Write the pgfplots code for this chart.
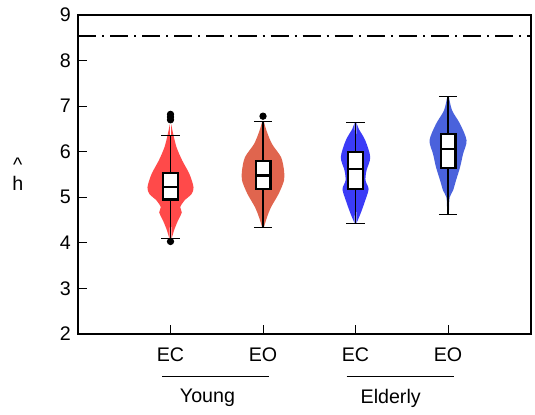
\documentclass[border=0pt]{standalone}
\usepackage{fontspec}
\setmainfont{Liberation Sans}
\usepackage{pgfplots}
\usepackage{pgfplotstable}
\pgfplotsset{compat=1.18}
\usepgfplotslibrary{fillbetween,statistics}
\definecolor{vRed}{HTML}{FF4A4A}
\definecolor{vTomato}{HTML}{E0654E}
\definecolor{vBlue}{HTML}{3B3BF7}
\definecolor{vRoyal}{HTML}{4A62DC}

% violin outlines: y, half width (axis units)
\pgfplotstableread{
y w
4.08 0.010
4.12 0.016
4.30 0.043
4.48 0.079
4.67 0.122
4.78 0.105
4.93 0.151
5.07 0.227
5.22 0.249
5.51 0.205
5.81 0.126
6.10 0.065
6.39 0.029
6.60 0.008
}\youngEC
\pgfplotstableread{
y w
4.33 0.008
4.56 0.043
4.78 0.086
5.08 0.170
5.37 0.227
5.59 0.227
5.88 0.195
6.17 0.097
6.45 0.040
6.67 0.008
}\youngEO
\pgfplotstableread{
y w
4.43 0.010
4.64 0.054
4.93 0.105
5.18 0.141
5.37 0.108
5.59 0.119
5.88 0.159
6.25 0.105
6.50 0.035
6.64 0.010
}\elderEC
\pgfplotstableread{
y w
4.62 0.010
4.78 0.011
5.00 0.018
5.15 0.054
5.37 0.086
5.66 0.130
5.95 0.162
6.25 0.200
6.61 0.130
6.91 0.043
7.22 0.008
}\elderEO

\begin{document}
\begin{tikzpicture}
\begin{axis}[
  scale only axis,width=226pt,height=159pt,
  xmin=0,xmax=4.9,ymin=2,ymax=9,
  xtick={1,2,3,4},xticklabels={EC,EO,EC,EO},
  ytick={2,3,...,9},
  tick pos=left,tick align=inside,major tick length=4.5pt,
  tick style={black,line width=0.5pt},
  axis line style={line width=0.85pt},
  /pgf/number format/assume math mode=true,
  tick label style={font=\fontsize{9.8}{11.5}\selectfont},
  xticklabel style={yshift=-3.5pt},
  clip=false,
  boxplot/draw direction=y,
  boxplot/box extend=0.16,boxplot/whisker extend=0.2,
  boxplot/every box/.style={draw=black,fill=white,line width=1.1pt},
  boxplot/every median/.style={draw=black,line width=1.1pt},
  boxplot/every whisker/.style={draw=black,line width=0.6pt},
]
% bounding box of the figure
\path (axis cs:-0.843,0.282) rectangle (axis cs:4.94,9.33);

\addplot[draw=black,line width=0.6pt,dash pattern=on 9pt off 3pt on 1pt off 3pt] coordinates {(0,8.54) (4.9,8.54)};

\addplot[name path=aR,draw=none,smooth] table[x expr=1+\thisrow{w},y=y] {\youngEC};
\addplot[name path=aL,draw=none,smooth] table[x expr=1-\thisrow{w},y=y] {\youngEC};
\addplot[fill=vRed,draw=none] fill between[of=aR and aL];

\addplot[name path=bR,draw=none,smooth] table[x expr=2+\thisrow{w},y=y] {\youngEO};
\addplot[name path=bL,draw=none,smooth] table[x expr=2-\thisrow{w},y=y] {\youngEO};
\addplot[fill=vTomato,draw=none] fill between[of=bR and bL];

\addplot[name path=cR,draw=none,smooth] table[x expr=3+\thisrow{w},y=y] {\elderEC};
\addplot[name path=cL,draw=none,smooth] table[x expr=3-\thisrow{w},y=y] {\elderEC};
\addplot[fill=vBlue,draw=none] fill between[of=cR and cL];

\addplot[name path=dR,draw=none,smooth] table[x expr=4+\thisrow{w},y=y] {\elderEO};
\addplot[name path=dL,draw=none,smooth] table[x expr=4-\thisrow{w},y=y] {\elderEO};
\addplot[fill=vRoyal,draw=none] fill between[of=dR and dL];

% boxes
\addplot[black,mark=*,mark size=1.6pt,boxplot prepared={draw position=1,lower whisker=4.09,lower quartile=4.95,median=5.23,upper quartile=5.54,upper whisker=6.36}] coordinates {(0,6.82) (0,6.76) (0,6.70) (0,4.03)};
\addplot[black,mark=*,mark size=1.6pt,boxplot prepared={draw position=2,lower whisker=4.33,lower quartile=5.18,median=5.48,upper quartile=5.79,upper whisker=6.67}] coordinates {(0,6.78)};
\addplot[black,mark=*,mark size=1.6pt,boxplot prepared={draw position=3,lower whisker=4.43,lower quartile=5.19,median=5.62,upper quartile=5.99,upper whisker=6.64}] coordinates {};
\addplot[black,mark=*,mark size=1.6pt,boxplot prepared={draw position=4,lower whisker=4.62,lower quartile=5.65,median=6.06,upper quartile=6.39,upper whisker=7.22}] coordinates {};

% group labels
\draw[line width=0.65pt] (axis cs:0.91,1.06) -- (axis cs:2.065,1.06);
\draw[line width=0.65pt] (axis cs:2.905,1.06) -- (axis cs:4.06,1.06);
\node[font=\fontsize{9.8}{11.5}\selectfont] at (axis cs:1.40,0.59) {Young};
\node[font=\fontsize{9.8}{11.5}\selectfont] at (axis cs:3.38,0.59) {Elderly};
\node[align=center,font=\fontsize{9.8}{11.5}\selectfont] at (axis cs:-0.65,5.5) {\textasciicircum\\[-2pt]h};
\end{axis}
\end{tikzpicture}
\end{document}
